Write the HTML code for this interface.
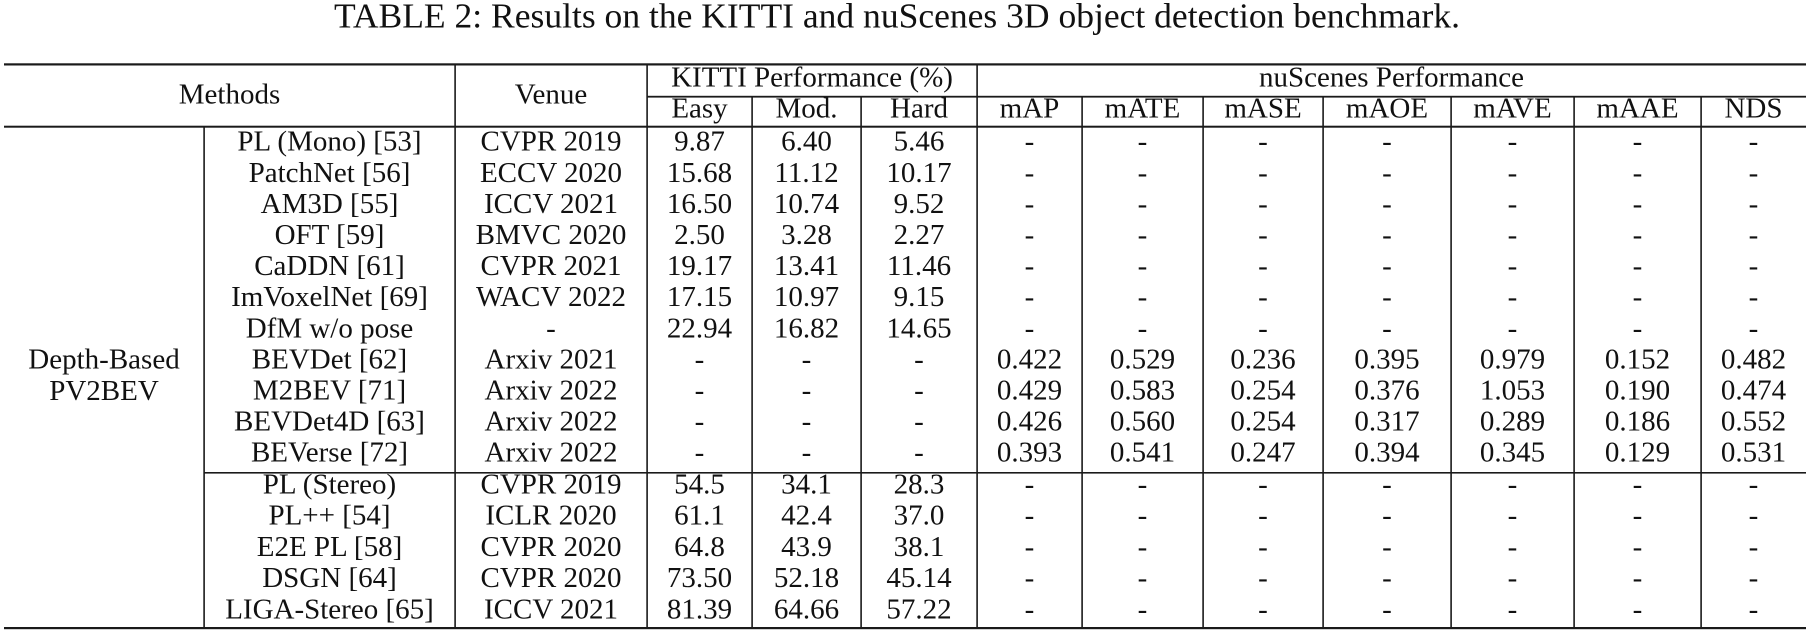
<!DOCTYPE html>
<html><head><meta charset="utf-8"><style>
html,body{margin:0;padding:0;background:#fff;}
svg{display:block;}
text{font-family:"Liberation Serif",serif;fill:#111;}
</style></head><body>
<svg width="1811" height="632" viewBox="0 0 1811 632" xmlns="http://www.w3.org/2000/svg">
<text x="334" y="27.3" font-size="35" textLength="1126" lengthAdjust="spacingAndGlyphs">TABLE 2: Results on the KITTI and nuScenes 3D object detection benchmark.</text>
<g fill="#1a1a1a">
<rect x="4" y="63.3" width="1802" height="2.2"/>
<rect x="647" y="95.8" width="1159" height="1.8"/>
<rect x="4" y="125.7" width="1802" height="2"/>
<rect x="204" y="472" width="1602" height="1.6"/>
<rect x="4" y="627" width="1802" height="2.2"/>
<rect x="203.3" y="126" width="1.6" height="502"/>
<rect x="454.3" y="64" width="1.6" height="564"/>
<rect x="646.3" y="64" width="1.6" height="564"/>
<rect x="751.3" y="96.5" width="1.6" height="531.5"/>
<rect x="860.3" y="96.5" width="1.6" height="531.5"/>
<rect x="976.3" y="64" width="1.6" height="564"/>
<rect x="1081.3" y="96.5" width="1.6" height="531.5"/>
<rect x="1202.3" y="96.5" width="1.6" height="531.5"/>
<rect x="1322.3" y="96.5" width="1.6" height="531.5"/>
<rect x="1450.3" y="96.5" width="1.6" height="531.5"/>
<rect x="1573.3" y="96.5" width="1.6" height="531.5"/>
<rect x="1700.3" y="96.5" width="1.6" height="531.5"/>
</g>
<g font-size="29" text-anchor="middle">
<text x="229.5" y="103.3">Methods</text>
<text x="551" y="103.3">Venue</text>
<text x="812" y="86.7">KITTI Performance (%)</text>
<text x="1391.5" y="86.7">nuScenes Performance</text>
<text x="699.5" y="117.7">Easy</text>
<text x="806.5" y="117.7">Mod.</text>
<text x="919" y="117.7">Hard</text>
<text x="1029.5" y="117.7">mAP</text>
<text x="1142.5" y="117.7">mATE</text>
<text x="1263" y="117.7">mASE</text>
<text x="1387" y="117.7">mAOE</text>
<text x="1512.5" y="117.7">mAVE</text>
<text x="1637.5" y="117.7">mAAE</text>
<text x="1753.5" y="117.7">NDS</text>

<text x="104" y="368.4">Depth-Based</text>
<text x="104" y="399.9">PV2BEV</text>

<!-- row 0 -->
<g transform="translate(0,150.7)">
<text x="329.5" y="0">PL (Mono) [53]</text><text x="551" y="0">CVPR 2019</text>
<text x="699.5" y="0">9.87</text><text x="806.5" y="0">6.40</text><text x="919" y="0">5.46</text>
<text x="1029.5" y="0">-</text><text x="1142.5" y="0">-</text><text x="1263" y="0">-</text><text x="1387" y="0">-</text><text x="1512.5" y="0">-</text><text x="1637.5" y="0">-</text><text x="1753.5" y="0">-</text>
</g>
<g transform="translate(0,181.8)">
<text x="329.5" y="0">PatchNet [56]</text><text x="551" y="0">ECCV 2020</text>
<text x="699.5" y="0">15.68</text><text x="806.5" y="0">11.12</text><text x="919" y="0">10.17</text>
<text x="1029.5" y="0">-</text><text x="1142.5" y="0">-</text><text x="1263" y="0">-</text><text x="1387" y="0">-</text><text x="1512.5" y="0">-</text><text x="1637.5" y="0">-</text><text x="1753.5" y="0">-</text>
</g>
<g transform="translate(0,212.9)">
<text x="329.5" y="0">AM3D [55]</text><text x="551" y="0">ICCV 2021</text>
<text x="699.5" y="0">16.50</text><text x="806.5" y="0">10.74</text><text x="919" y="0">9.52</text>
<text x="1029.5" y="0">-</text><text x="1142.5" y="0">-</text><text x="1263" y="0">-</text><text x="1387" y="0">-</text><text x="1512.5" y="0">-</text><text x="1637.5" y="0">-</text><text x="1753.5" y="0">-</text>
</g>
<g transform="translate(0,244.0)">
<text x="329.5" y="0">OFT [59]</text><text x="551" y="0">BMVC 2020</text>
<text x="699.5" y="0">2.50</text><text x="806.5" y="0">3.28</text><text x="919" y="0">2.27</text>
<text x="1029.5" y="0">-</text><text x="1142.5" y="0">-</text><text x="1263" y="0">-</text><text x="1387" y="0">-</text><text x="1512.5" y="0">-</text><text x="1637.5" y="0">-</text><text x="1753.5" y="0">-</text>
</g>
<g transform="translate(0,275.1)">
<text x="329.5" y="0">CaDDN [61]</text><text x="551" y="0">CVPR 2021</text>
<text x="699.5" y="0">19.17</text><text x="806.5" y="0">13.41</text><text x="919" y="0">11.46</text>
<text x="1029.5" y="0">-</text><text x="1142.5" y="0">-</text><text x="1263" y="0">-</text><text x="1387" y="0">-</text><text x="1512.5" y="0">-</text><text x="1637.5" y="0">-</text><text x="1753.5" y="0">-</text>
</g>
<g transform="translate(0,306.2)">
<text x="329.5" y="0">ImVoxelNet [69]</text><text x="551" y="0">WACV 2022</text>
<text x="699.5" y="0">17.15</text><text x="806.5" y="0">10.97</text><text x="919" y="0">9.15</text>
<text x="1029.5" y="0">-</text><text x="1142.5" y="0">-</text><text x="1263" y="0">-</text><text x="1387" y="0">-</text><text x="1512.5" y="0">-</text><text x="1637.5" y="0">-</text><text x="1753.5" y="0">-</text>
</g>
<g transform="translate(0,337.3)">
<text x="329.5" y="0">DfM w/o pose</text><text x="551" y="0">-</text>
<text x="699.5" y="0">22.94</text><text x="806.5" y="0">16.82</text><text x="919" y="0">14.65</text>
<text x="1029.5" y="0">-</text><text x="1142.5" y="0">-</text><text x="1263" y="0">-</text><text x="1387" y="0">-</text><text x="1512.5" y="0">-</text><text x="1637.5" y="0">-</text><text x="1753.5" y="0">-</text>
</g>
<g transform="translate(0,368.4)">
<text x="329.5" y="0">BEVDet [62]</text><text x="551" y="0">Arxiv 2021</text>
<text x="699.5" y="0">-</text><text x="806.5" y="0">-</text><text x="919" y="0">-</text>
<text x="1029.5" y="0">0.422</text><text x="1142.5" y="0">0.529</text><text x="1263" y="0">0.236</text><text x="1387" y="0">0.395</text><text x="1512.5" y="0">0.979</text><text x="1637.5" y="0">0.152</text><text x="1753.5" y="0">0.482</text>
</g>
<g transform="translate(0,399.5)">
<text x="329.5" y="0">M2BEV [71]</text><text x="551" y="0">Arxiv 2022</text>
<text x="699.5" y="0">-</text><text x="806.5" y="0">-</text><text x="919" y="0">-</text>
<text x="1029.5" y="0">0.429</text><text x="1142.5" y="0">0.583</text><text x="1263" y="0">0.254</text><text x="1387" y="0">0.376</text><text x="1512.5" y="0">1.053</text><text x="1637.5" y="0">0.190</text><text x="1753.5" y="0">0.474</text>
</g>
<g transform="translate(0,430.6)">
<text x="329.5" y="0">BEVDet4D [63]</text><text x="551" y="0">Arxiv 2022</text>
<text x="699.5" y="0">-</text><text x="806.5" y="0">-</text><text x="919" y="0">-</text>
<text x="1029.5" y="0">0.426</text><text x="1142.5" y="0">0.560</text><text x="1263" y="0">0.254</text><text x="1387" y="0">0.317</text><text x="1512.5" y="0">0.289</text><text x="1637.5" y="0">0.186</text><text x="1753.5" y="0">0.552</text>
</g>
<g transform="translate(0,461.7)">
<text x="329.5" y="0">BEVerse [72]</text><text x="551" y="0">Arxiv 2022</text>
<text x="699.5" y="0">-</text><text x="806.5" y="0">-</text><text x="919" y="0">-</text>
<text x="1029.5" y="0">0.393</text><text x="1142.5" y="0">0.541</text><text x="1263" y="0">0.247</text><text x="1387" y="0">0.394</text><text x="1512.5" y="0">0.345</text><text x="1637.5" y="0">0.129</text><text x="1753.5" y="0">0.531</text>
</g>
<g transform="translate(0,493.3)">
<text x="329.5" y="0">PL (Stereo)</text><text x="551" y="0">CVPR 2019</text>
<text x="699.5" y="0">54.5</text><text x="806.5" y="0">34.1</text><text x="919" y="0">28.3</text>
<text x="1029.5" y="0">-</text><text x="1142.5" y="0">-</text><text x="1263" y="0">-</text><text x="1387" y="0">-</text><text x="1512.5" y="0">-</text><text x="1637.5" y="0">-</text><text x="1753.5" y="0">-</text>
</g>
<g transform="translate(0,524.55)">
<text x="329.5" y="0">PL++ [54]</text><text x="551" y="0">ICLR 2020</text>
<text x="699.5" y="0">61.1</text><text x="806.5" y="0">42.4</text><text x="919" y="0">37.0</text>
<text x="1029.5" y="0">-</text><text x="1142.5" y="0">-</text><text x="1263" y="0">-</text><text x="1387" y="0">-</text><text x="1512.5" y="0">-</text><text x="1637.5" y="0">-</text><text x="1753.5" y="0">-</text>
</g>
<g transform="translate(0,555.8)">
<text x="329.5" y="0">E2E PL [58]</text><text x="551" y="0">CVPR 2020</text>
<text x="699.5" y="0">64.8</text><text x="806.5" y="0">43.9</text><text x="919" y="0">38.1</text>
<text x="1029.5" y="0">-</text><text x="1142.5" y="0">-</text><text x="1263" y="0">-</text><text x="1387" y="0">-</text><text x="1512.5" y="0">-</text><text x="1637.5" y="0">-</text><text x="1753.5" y="0">-</text>
</g>
<g transform="translate(0,587.05)">
<text x="329.5" y="0">DSGN [64]</text><text x="551" y="0">CVPR 2020</text>
<text x="699.5" y="0">73.50</text><text x="806.5" y="0">52.18</text><text x="919" y="0">45.14</text>
<text x="1029.5" y="0">-</text><text x="1142.5" y="0">-</text><text x="1263" y="0">-</text><text x="1387" y="0">-</text><text x="1512.5" y="0">-</text><text x="1637.5" y="0">-</text><text x="1753.5" y="0">-</text>
</g>
<g transform="translate(0,618.3)">
<text x="329.5" y="0">LIGA-Stereo [65]</text><text x="551" y="0">ICCV 2021</text>
<text x="699.5" y="0">81.39</text><text x="806.5" y="0">64.66</text><text x="919" y="0">57.22</text>
<text x="1029.5" y="0">-</text><text x="1142.5" y="0">-</text><text x="1263" y="0">-</text><text x="1387" y="0">-</text><text x="1512.5" y="0">-</text><text x="1637.5" y="0">-</text><text x="1753.5" y="0">-</text>
</g>
</g>
</svg>
</body></html>
